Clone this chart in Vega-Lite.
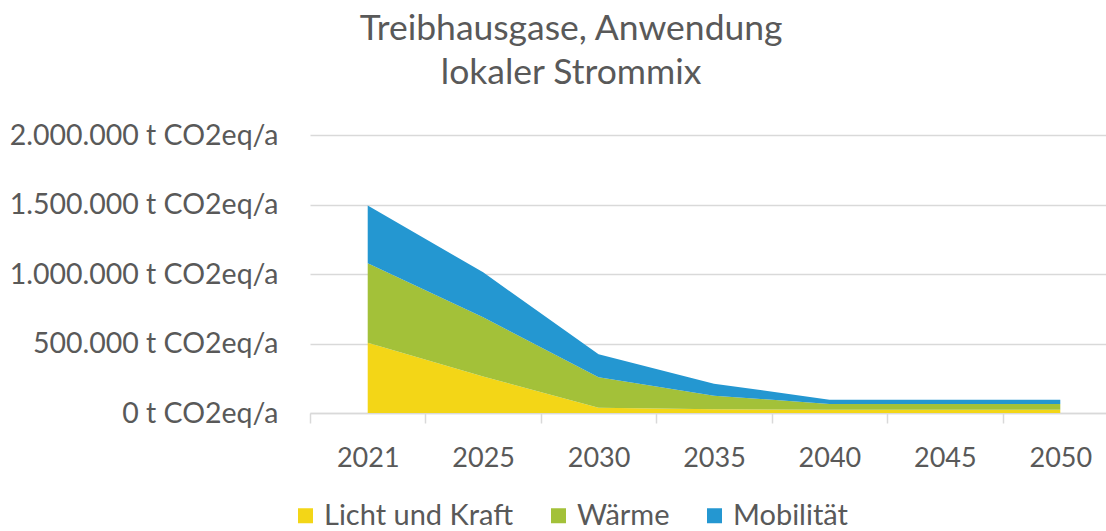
{
  "$schema": "https://vega.github.io/schema/vega-lite/v6.json",
  "autosize": "none",
  "width": 808,
  "height": 278,
  "padding": {"left": 310, "top": 135, "right": 0, "bottom": 118},
  "background": "white",
  "title": {
    "text": ["Treibhausgase, Anwendung", "lokaler Strommix"],
    "anchor": "start",
    "align": "center",
    "dx": 562,
    "offset": 30,
    "fontSize": 35.5,
    "lineHeight": 44,
    "font": "Lato",
    "fontWeight": "normal",
    "color": "#595959"
  },
  "config": {
    "locale": {"number": {"decimal": ",", "thousands": ".", "grouping": [3], "currency": ["", " €"]}},
    "view": {"stroke": null},
    "font": "Lato"
  },
  "data": {
    "values": [
      {"Jahr": "2021", "Sektor": "Licht und Kraft", "Wert": 505000},
      {"Jahr": "2021", "Sektor": "Wärme", "Wert": 572000},
      {"Jahr": "2021", "Sektor": "Mobilität", "Wert": 416000},
      {"Jahr": "2025", "Sektor": "Licht und Kraft", "Wert": 262000},
      {"Jahr": "2025", "Sektor": "Wärme", "Wert": 426000},
      {"Jahr": "2025", "Sektor": "Mobilität", "Wert": 324000},
      {"Jahr": "2030", "Sektor": "Licht und Kraft", "Wert": 38000},
      {"Jahr": "2030", "Sektor": "Wärme", "Wert": 220000},
      {"Jahr": "2030", "Sektor": "Mobilität", "Wert": 165000},
      {"Jahr": "2035", "Sektor": "Licht und Kraft", "Wert": 27000},
      {"Jahr": "2035", "Sektor": "Wärme", "Wert": 98000},
      {"Jahr": "2035", "Sektor": "Mobilität", "Wert": 86000},
      {"Jahr": "2040", "Sektor": "Licht und Kraft", "Wert": 24000},
      {"Jahr": "2040", "Sektor": "Wärme", "Wert": 41000},
      {"Jahr": "2040", "Sektor": "Mobilität", "Wert": 31000},
      {"Jahr": "2045", "Sektor": "Licht und Kraft", "Wert": 24000},
      {"Jahr": "2045", "Sektor": "Wärme", "Wert": 41000},
      {"Jahr": "2045", "Sektor": "Mobilität", "Wert": 31000},
      {"Jahr": "2050", "Sektor": "Licht und Kraft", "Wert": 24000},
      {"Jahr": "2050", "Sektor": "Wärme", "Wert": 41000},
      {"Jahr": "2050", "Sektor": "Mobilität", "Wert": 31000}
    ]
  },
  "transform": [
    {"calculate": "indexof(['Licht und Kraft', 'Wärme', 'Mobilität'], datum.Sektor)", "as": "Stapel"}
  ],
  "mark": {"type": "area", "opacity": 1},
  "encoding": {
    "x": {
      "field": "Jahr",
      "type": "ordinal",
      "bandPosition": 0.5,
      "scale": {"type": "band", "paddingInner": 0, "paddingOuter": 0},
      "axis": {
        "title": null,
        "labelAngle": 0,
        "labelFontSize": 27,
        "labelColor": "#595959",
        "labelPadding": 22,
        "tickBand": "extent",
        "tickSize": 10,
        "tickColor": "#d9d9d9",
        "tickWidth": 1.5,
        "domainColor": "#d9d9d9",
        "domainWidth": 1.5,
        "grid": false
      }
    },
    "y": {
      "field": "Wert",
      "type": "quantitative",
      "stack": "zero",
      "scale": {"domain": [0, 2000000]},
      "axis": {
        "title": null,
        "values": [0, 500000, 1000000, 1500000, 2000000],
        "format": ",d",
        "labelExpr": "datum.label + ' t CO2eq/a'",
        "labelFontSize": 28.5,
        "labelColor": "#595959",
        "labelPadding": 32,
        "labelLimit": 400,
        "ticks": false,
        "domain": false,
        "grid": true,
        "gridColor": "#d9d9d9",
        "gridWidth": 1.5
      }
    },
    "color": {
      "field": "Sektor",
      "type": "nominal",
      "sort": ["Licht und Kraft", "Wärme", "Mobilität"],
      "scale": {
        "domain": ["Licht und Kraft", "Wärme", "Mobilität"],
        "range": ["#F3D617", "#A3C139", "#2497D1"]
      },
      "legend": {
        "title": null,
        "orient": "none",
        "direction": "horizontal",
        "legendX": -19,
        "legendY": 366,
        "symbolType": "square",
        "symbolSize": 225,
        "symbolStrokeWidth": 0,
        "symbolOpacity": 1,
        "labelFontSize": 29,
        "labelColor": "#595959",
        "labelOffset": 4,
        "labelLimit": 400,
        "columnPadding": 30
      }
    },
    "order": {"field": "Stapel", "type": "quantitative", "sort": "ascending"}
  }
}
